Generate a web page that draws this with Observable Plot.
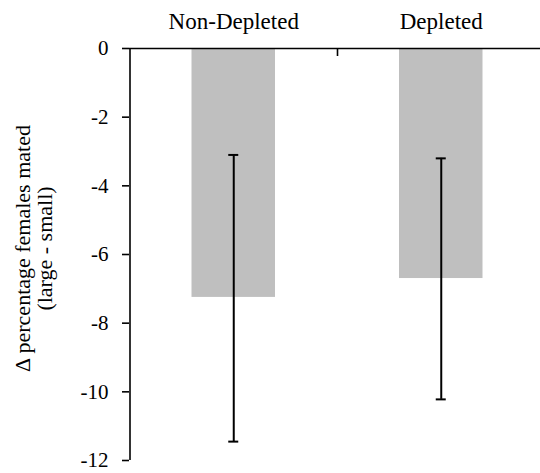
<!DOCTYPE html>
<html>
<head>
<meta charset="utf-8">
<script src="https://cdn.jsdelivr.net/npm/d3@7"></script>
<script src="https://cdn.jsdelivr.net/npm/@observablehq/plot@0.6"></script>
<style>
  html, body { margin: 0; padding: 0; background: #fff; }
  #chart svg { display: block; }
  #chart svg text { font-family: 'Liberation Serif', 'Times New Roman', serif; }
</style>
</head>
<body>
<div id="chart"></div>
<script>
// Data
const categories = ["Non-Depleted", "Depleted"];
const means = [-7.25, -6.7];
const errLow = [-11.45, -10.22];
const errHigh = [-3.1, -3.2];
const yTicks = [0, -2, -4, -6, -8, -10, -12];
const yLabel = "Δ percentage females mated\n(large - small)";

const data = categories.map((c, i) => ({
  cat: c, i, mean: means[i], lo: errLow[i], hi: errHigh[i]
}));
const boundaries = d3.range(1, categories.length);

const font = "'Liberation Serif', 'Times New Roman', serif";

const chart = Plot.plot({
  width: 540,
  height: 473,
  marginTop: 48,
  marginBottom: 13,
  marginLeft: 129,
  marginRight: 0,
  style: { fontFamily: font, fontSize: "21px", color: "#000", background: "#fff" },
  x: { type: "linear", domain: [0, categories.length], range: [129.5, 544.5], axis: null },
  y: { domain: [-12, 0], range: [460, 48], axis: null },
  marks: [
    Plot.rectY(data, {
      x1: d => d.i, x2: d => d.i + 1, y1: 0, y2: "mean",
      insetLeft: 62, insetRight: 62, fill: "#bfbfbf"
    }),
    // error stems
    Plot.ruleX(data, { x: d => d.i + 0.5, y1: "lo", y2: "hi", stroke: "#000", strokeWidth: 2 }),
    // error caps
    Plot.ruleY(data.flatMap(d => [
      { x: d.i + 0.5, y: d.lo }, { x: d.i + 0.5, y: d.hi }
    ]), { x1: "x", x2: "x", y: "y", insetLeft: -5, insetRight: -5, stroke: "#000", strokeWidth: 2 }),
    // left axis line
    Plot.ruleX([0], { y1: -12, y2: 0, stroke: "#000", strokeWidth: 1.6 }),
    // top axis line at zero
    Plot.ruleY([0], { stroke: "#000", strokeWidth: 1.6 }),
    // boundary tick between categories
    Plot.axisX({ anchor: "top", ticks: boundaries, tickSize: -7, tickFormat: () => "", strokeWidth: 1.6, label: null }),
    // category labels
    Plot.axisX({
      anchor: "top", ticks: data.map(d => d.i + 0.5), tickSize: 0, tickPadding: 20,
      tickFormat: v => categories[Math.floor(v)], fontSize: 23, fontFamily: font, label: null
    }),
    Plot.axisY({
      ticks: yTicks, tickSize: 7, tickPadding: 14, tickFormat: d => String(d),
      strokeWidth: 1.6, fontSize: 21, fontFamily: font, label: null
    }),
    Plot.text([yLabel], {
      frameAnchor: "left", rotate: -90, dx: -96, dy: -6, lineAnchor: "middle", textAnchor: "middle",
      lineHeight: 1.0, fontSize: 22, fontFamily: font, text: d => d, fill: "#000"
    })
  ]
});

document.getElementById("chart").appendChild(chart);
</script>
</body>
</html>
